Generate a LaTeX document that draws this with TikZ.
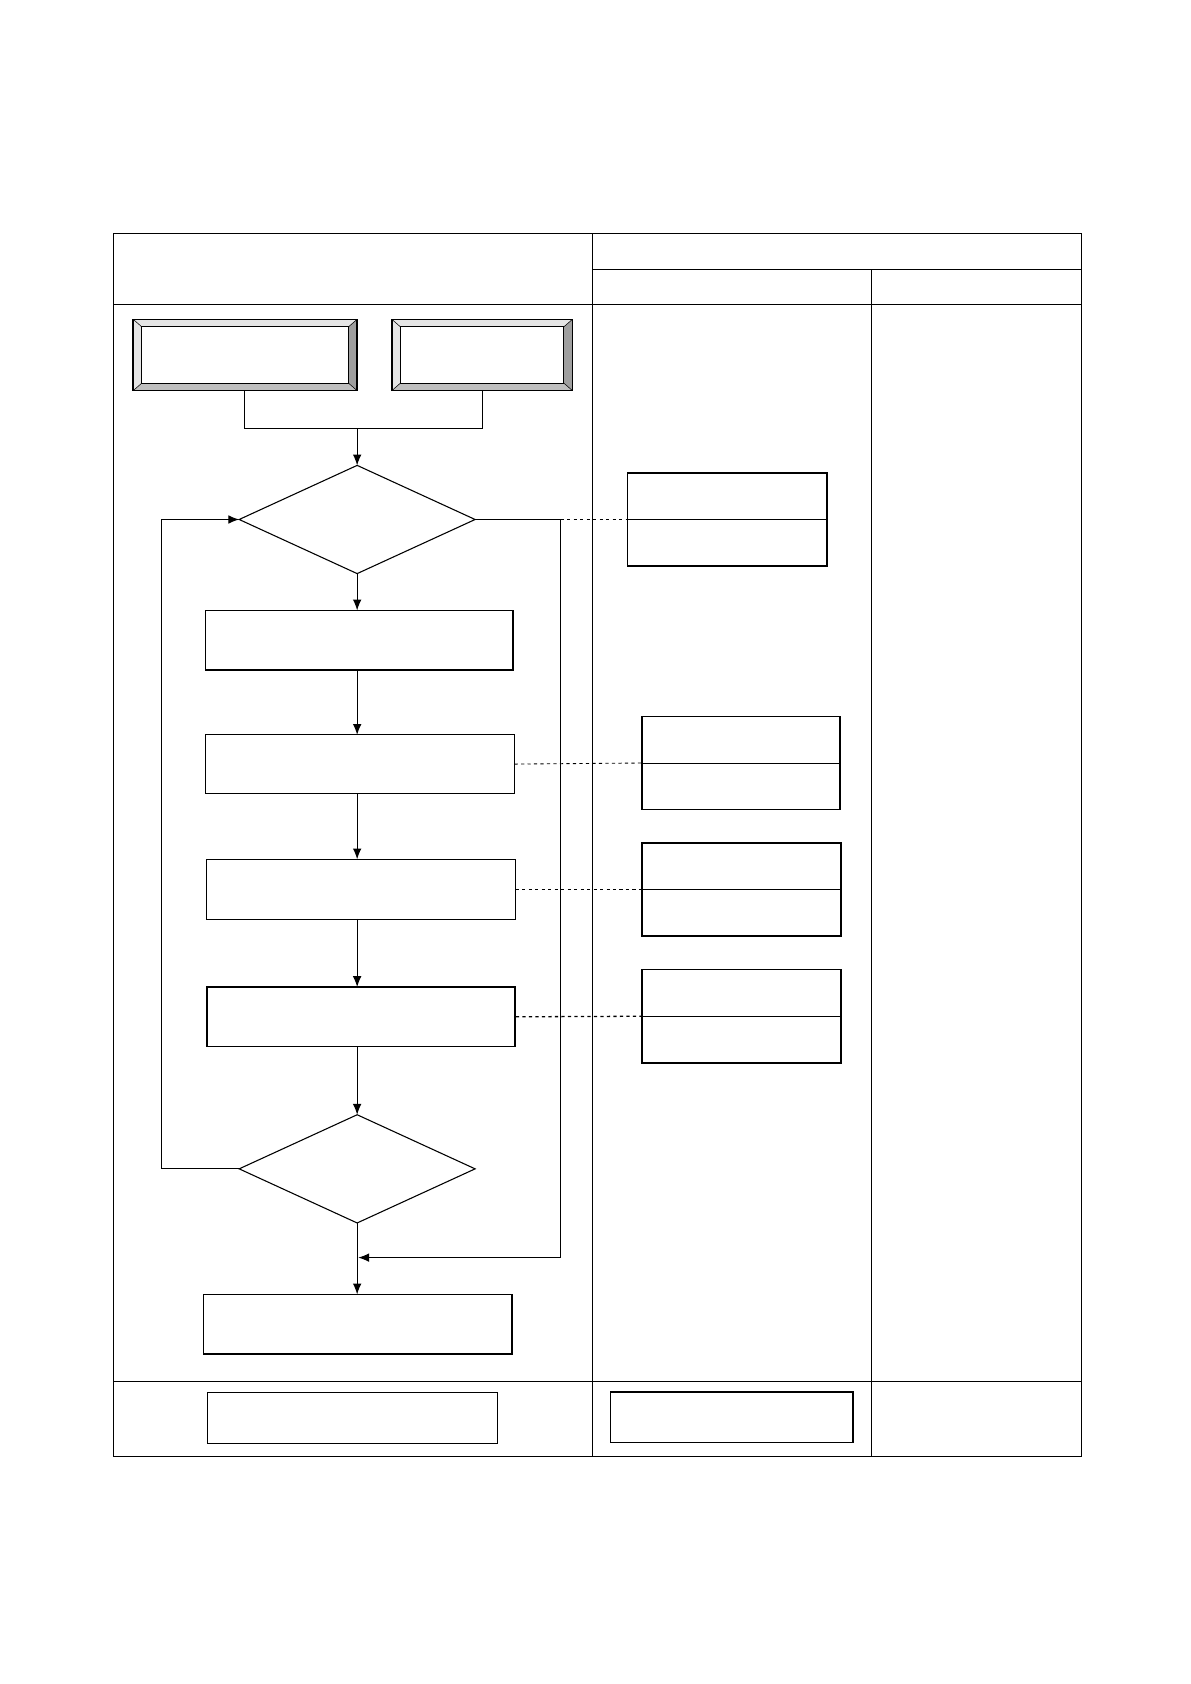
\documentclass[tikz,border=0pt]{standalone}
\usetikzlibrary{arrows.meta}
\begin{document}
\begin{tikzpicture}[x=1pt,y=-1pt,
  thinbox/.style={draw,line width=0.8pt,inner sep=0},
  thickbox/.style={draw,line width=1.5pt},
  arr/.style={-{Latex[length=10pt,width=8pt]},line width=1pt},
  ln/.style={line width=1pt},
  dsh/.style={dashed,line width=1.2pt}]
\useasboundingbox (0,0) rectangle (1100,1556);
% table
\draw[line width=0.8pt] (105,216) rectangle (999,1346);
\draw[line width=0.8pt] (547,216)--(547,1346) (805,249)--(805,1346)
 (547,249)--(999,249) (105,281)--(999,281) (105,1276)--(999,1276);
% bevel boxes
\foreach \n/\a/\b/\c/\d in {b1/123/295/330/361, b2/362/295/529/361}{
  \fill[gray!20] (\a,\b)--(\c,\b)--(\c-8,\b+7)--(\a+8,\b+7)--cycle;
  \fill[gray!20] (\a,\b)--(\a+8,\b+7)--(\a+8,\d-7)--(\a,\d)--cycle;
  \fill[gray!75] (\c,\b)--(\c,\d)--(\c-8,\d-7)--(\c-8,\b+7)--cycle;
  \fill[gray!50] (\a,\d)--(\c,\d)--(\c-8,\d-7)--(\a+8,\d-7)--cycle;
  \draw[line width=1.4pt] (\a,\b) rectangle (\c,\d);
  \draw[line width=1pt] (\a+8,\b+7) rectangle (\c-8,\d-7);
  \draw[line width=0.5pt] (\a,\b)--(\a+8,\b+7) (\c,\b)--(\c-8,\b+7) (\a,\d)--(\a+8,\d-7) (\c,\d)--(\c-8,\d-7);
}
\coordinate (b1s) at (226,361); \coordinate (b2s) at (446,361);
\coordinate (j) at (330,396);
\draw[ln] (b1s)|-(j)-|(b2s);
% diamonds
\draw[ln] (330,430) coordinate(d1t)--(439,480) coordinate(d1r)--(330,530) coordinate(d1b)--(221,480) coordinate(d1l)--cycle;
\draw[ln] (330,1030) coordinate(d2t)--(439,1080) coordinate(d2r)--(330,1130) coordinate(d2b)--(221,1080) coordinate(d2l)--cycle;
\draw[arr] (j)--(d1t);
% boxes
\node[thickbox,minimum width=284pt,minimum height=55pt] (A) at (332,591.5) {};
\node[thinbox,minimum width=285pt,minimum height=55pt] (B) at (332.5,706) {};
\node[thinbox,minimum width=285pt,minimum height=55pt] (C) at (333.5,822) {};
\node[thickbox,minimum width=285pt,minimum height=55pt] (D) at (333.5,939.5) {};
\node[thickbox,minimum width=285pt,minimum height=55pt] (E) at (330.5,1223.5) {};
\draw[arr] (d1b)--(330,564);
\draw[arr] (330,619)--(330,679);
\draw[arr] (330,734)--(330,794);
\draw[arr] (330,849)--(330,912);
\draw[arr] (330,967)--(d2t);
\draw[arr] (d2b)--(330,1196);
% loops
\coordinate (l1) at (149,1080); \coordinate (l2) at (149,480);
\draw[arr] (d2l)--(l1)--(l2)--(d1l);
\coordinate (r1) at (518,480); \coordinate (r2) at (518,1162); \coordinate (r3) at (331,1162);
\draw[arr] (d1r)--(r1)--(r2)--(r3);
% side boxes
\foreach \n/\a/\b/\c in {S1/580/437/764, S2/593/662/776, S3/593/779/777, S4/593/896/777}{
  \draw[line width=1.4pt] (\a,\b) rectangle (\c,\b+86);
  \draw[line width=0.8pt] (\a,\b+43)--(\c,\b+43);
  \coordinate (\n) at (\a,\b+43);
}
\draw[dsh] (r1)--(S1);
\draw[dsh,line width=0.8pt] (B.east)--(S2);
\draw[dsh] (C.east)--(S3);
\draw[dsh] (D.east)--(S4);
% bottom row
\node[thinbox,minimum width=268pt,minimum height=47pt] (F) at (326,1310.5) {};
\node[thickbox,minimum width=224pt,minimum height=47pt] (G) at (676,1309.5) {};
\end{tikzpicture}
\end{document}
